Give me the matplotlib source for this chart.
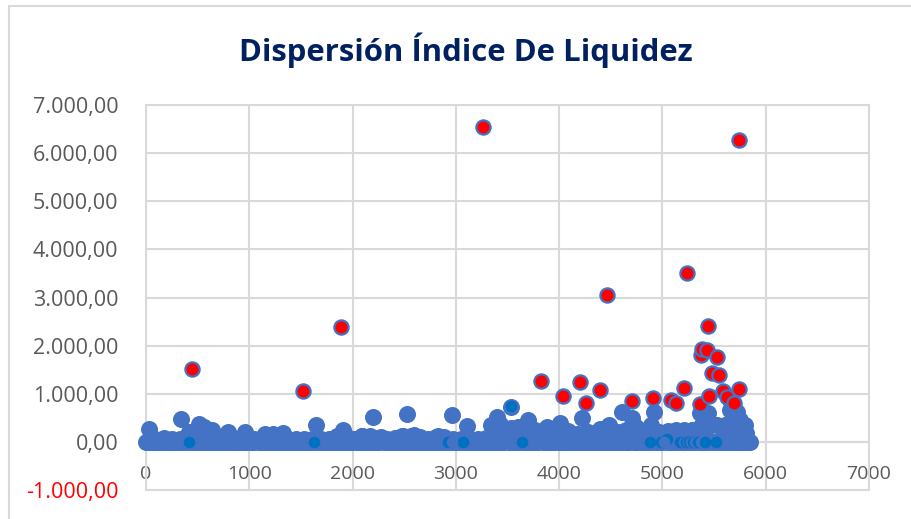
import matplotlib
matplotlib.use('Agg')
import matplotlib.pyplot as plt
from matplotlib.patches import Rectangle
from matplotlib.ticker import FuncFormatter

# red points (outliers)
red_x = [450, 1520, 1885, 3265, 3820, 4040, 4200, 4260, 4400, 4460, 4710, 4910, 5080, 5130, 5210, 5235,
         5360, 5375, 5385, 5430, 5440, 5450, 5480, 5530, 5550, 5590, 5650, 5630, 5690, 5745, 5740]
red_y = [1520, 1060, 2380, 6550, 1270, 950, 1240, 810, 1070, 3060, 840, 920, 870, 800, 1120, 3500,
         780, 1800, 1930, 1900, 2400, 950, 1430, 1760, 1380, 1060, 860, 930, 800, 1100, 6270]

# blue bumps above the band
blue_x = [30, 340, 420, 515, 560, 640, 795, 960, 1150, 1230, 1325, 1645, 1905, 2090, 2195, 2280, 2480, 2525,
          2590, 2830, 2960, 3105, 3345, 3395, 3430, 3534, 3600, 3700, 3760, 3880, 4005, 4060, 4225, 4280,
          4400, 4480, 4605, 4705, 4740, 4890, 4920, 5365, 5400, 5440, 5480, 5560, 5620, 5650, 5690, 5720,
          5750, 5780, 5800]
blue_y = [270, 480, 210, 370, 300, 250, 210, 210, 160, 170, 190, 350, 240, 130, 515, 100, 130, 580,
          150, 120, 560, 330, 350, 520, 380, 730, 300, 460, 200, 310, 390, 230, 500, 200,
          270, 350, 620, 500, 300, 350, 620, 600, 400, 600, 380, 330, 330, 665, 560, 620,
          450, 330, 350]

# points sitting on the zero line
base_x = [0, 15, 40, 70, 100, 140, 175, 210, 250, 285, 320, 355, 390, 430, 465, 500, 540, 575, 610, 650,
          685, 720, 760, 795, 830, 870, 905, 940, 980, 1015, 1050, 1090, 1125, 1160, 1200, 1235, 1270,
          1310, 1345, 1380, 1420, 1455, 1490, 1530, 1565, 1600, 1640, 1675, 1710, 1750, 1785, 1820, 1860,
          1895, 1930, 1970, 2005, 2040, 2080, 2115, 2150, 2190, 2225, 2260, 2300, 2335, 2370, 2410, 2445,
          2480, 2520, 2555, 2590, 2630, 2665, 2700, 2740, 2775, 2810, 2850, 2885, 2920, 2960, 2995, 3030,
          3070, 3105, 3140, 3180, 3215, 3250, 3290, 3325, 3360, 3400, 3435, 3470, 3510, 3545, 3580, 3620,
          3655, 3690, 3730, 3765, 3800, 3840, 3875, 3910, 3950, 3985, 4020, 4060, 4095, 4130, 4170, 4205,
          4240, 4280, 4315, 4350, 4390, 4425, 4460, 4500, 4535, 4570, 4610, 4645, 4680, 4720, 4755, 4790,
          4830, 4865, 4900, 4940, 4975, 5010, 5050, 5085, 5120, 5160, 5195, 5230, 5270, 5305, 5340, 5380,
          5415, 5450, 5490, 5525, 5560, 5600, 5635, 5670, 5710, 5745, 5780, 5815, 5845]
# second layer, a little above the line
mid_x = [90, 170, 250, 330, 410, 490, 570, 650, 730, 810, 890, 970, 1050, 1130, 1210, 1290, 1370, 1450, 1530, 1610,
         1690, 1770, 1850, 1930, 2010, 2090, 2170, 2250, 2330, 2410, 2490, 2570, 2650, 2730, 2810, 2890, 2970,
         3050, 3130, 3210, 3290, 3370, 3450, 3530, 3610, 3690, 3770, 3850, 3930, 4010, 4090, 4170, 4250, 4330,
         4410, 4490, 4570, 4650, 4730, 4810, 4890, 4970, 5050, 5130, 5210, 5290, 5370, 5450, 5530, 5610, 5690,
         5770, 5810]
mid_y = [60, 80, 60, 70, 100, 90, 130, 120, 80, 120, 70, 120, 70, 100, 120, 130, 60, 70, 60, 60,
         70, 70, 130, 140, 70, 130, 120, 80, 70, 80, 120, 130, 100, 70, 100, 100, 70,
         70, 70, 60, 80, 230, 280, 290, 270, 230, 240, 230, 240, 250, 230, 170, 160, 170,
         220, 240, 210, 240, 250, 210, 240, 210, 220, 240, 240, 250, 330, 340, 360, 360, 340,
         320, 180]

# darker points on the zero line, some partly hidden by the blue ones after them
dark_x = [420, 1627, 2924, 3069, 3640, 4880, 3534, 5044]
dark_y = [0, 0, 0, 0, 0, 0, 740, 70]
over_x = [2965]
crescent_x = [4985, 5170, 5225, 5260, 5300, 5345, 5412, 5519]
crescent_over = [5020, 5205, 5245, 5280, 5320, 5375, 5900, 5900]

x_ticks = [0, 1000, 2000, 3000, 4000, 5000, 6000, 7000]
y_ticks = [-1000, 0, 1000, 2000, 3000, 4000, 5000, 6000, 7000]

plt.rcParams['font.family'] = ['Open Sans', 'DejaVu Sans']

W, H = 911, 519
fig = plt.figure(figsize=(W / 100, H / 100), dpi=100)
fig.patch.set_facecolor('white')

# outer chart frame, only left and top are inside the picture
fig.add_artist(Rectangle((9 / W, -0.02), 1.0, 1 - 6 / H + 0.02, transform=fig.transFigure,
                         fill=False, edgecolor='#d9d9d9', linewidth=1.5))

ax = fig.add_axes([146 / W, 1 - 490 / H, (869 - 146) / W, (490 - 105) / H])
ax.set_xlim(0, 7000)
ax.set_ylim(-1000, 7000)
ax.set_xticks(x_ticks)
ax.set_yticks(y_ticks)
ax.grid(True, color='#d9d9d9', linewidth=1.5)
ax.set_axisbelow(True)
for s in ax.spines.values():
    s.set_color('#d9d9d9')
    s.set_linewidth(1.5)
ax.axhline(0, color='#bfbfbf', linewidth=1.5, zorder=0.5)

blue = '#4472c4'
dark = '#0070c0'
size = 150
ax.scatter(base_x, [0] * len(base_x), s=size, color=blue, linewidths=0, zorder=3, clip_on=False)
ax.scatter(mid_x, mid_y, s=size, color=blue, linewidths=0, zorder=3, clip_on=False)
ax.scatter(blue_x, blue_y, s=size, color=blue, linewidths=0, zorder=3, clip_on=False)
ax.scatter(dark_x, dark_y, s=70, color=dark, linewidths=0, zorder=4)
ax.scatter(over_x, [0] * len(over_x), s=70, color=blue, linewidths=0, zorder=4.1)
for i in range(len(crescent_x)):
    z = 4.2 + i * 0.01
    ax.scatter([crescent_x[i]], [0], s=70, color=dark, linewidths=0, zorder=z)
    if crescent_over[i] < 5900:
        ax.scatter([crescent_over[i]], [0], s=70, color=blue, linewidths=0, zorder=z + 0.001)
ax.scatter(red_x, red_y, s=105, color='#ff0000', edgecolors=blue, linewidths=1.6, zorder=5)

def y_fmt(v, pos):
    txt = f'{abs(v):,.2f}'.replace(',', 'X').replace('.', ',').replace('X', '.')
    return '-' + txt if v < 0 else txt

ax.yaxis.set_major_formatter(FuncFormatter(y_fmt))
ax.tick_params(axis='both', length=0, labelcolor='#595959')
ax.tick_params(axis='y', pad=20, labelsize=15.5)
# x labels sit just below the zero line
ax.tick_params(axis='x', direction='in', pad=-18, labelsize=14)
for lab in ax.get_xticklabels():
    lab.set_zorder(6)
for lab, v in zip(ax.get_yticklabels(), y_ticks):
    if v < 0:
        lab.set_color('#ff0000')

fig.text(466 / W, 1 - 50 / H, 'Dispersión Índice De Liquidez', ha='center', va='center',
         fontsize=22.4, fontweight='bold', color='#002060')

fig.savefig('out.png', dpi=100)
